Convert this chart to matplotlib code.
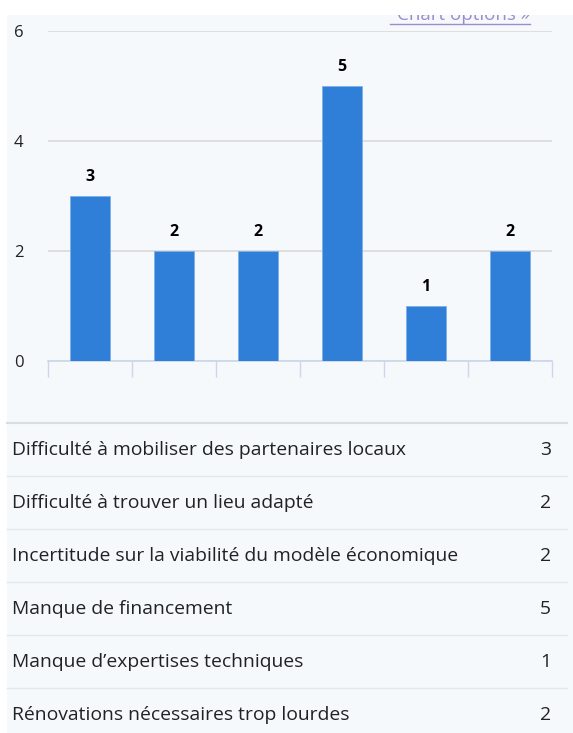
import matplotlib
matplotlib.use("Agg")
import matplotlib.pyplot as plt
from matplotlib.lines import Line2D
from matplotlib.patches import Rectangle

plt.rcParams['font.family'] = ['Open Sans', 'DejaVu Sans']

# %% data
categories = [
    "Difficulté à mobiliser des partenaires locaux",
    "Difficulté à trouver un lieu adapté",
    "Incertitude sur la viabilité du modèle économique",
    "Manque de financement",
    "Manque d\u2019expertises techniques",
    "Rénovations nécessaires trop lourdes",
]
counts = [3, 2, 2, 5, 1, 2]
yticks = [0, 2, 4, 6]

W, H = 573, 733
bar_color = "#2f7ed8"
grid_color = "#dcdcdc"
axis_color = "#ccd6eb"
bg_color = "#f5f9fc"

fig = plt.figure(figsize=(W / 100, H / 100), dpi=100)

# panel background (white strip at top and left)
fig.patches.append(Rectangle((7 / W, 0), 1, (H - 15) / H, transform=fig.transFigure,
                             facecolor=bg_color, edgecolor="none", zorder=-5))

# %% bar chart
ax = fig.add_axes([48 / W, (H - 361) / H, 504 / W, 330 / H])
ax.set_zorder(2)
ax.set_facecolor("none")
x = list(range(len(counts)))
ax.bar(x, counts, width=0.48, color=bar_color, edgecolor="#7fb0ea", linewidth=0.6, zorder=3)
for xi, c in zip(x, counts):
    ax.annotate(str(c), (xi, c), xytext=(0, 11), textcoords="offset pixels",
                ha="center", va="bottom", fontsize=11.5, fontweight="bold", color="#000000")

ax.set_xlim(-0.5, len(counts) - 0.5)
ax.set_ylim(0, 6)
ax.set_yticks(yticks)
ax.set_yticklabels([str(v) for v in yticks], fontsize=12, color="#222222")
ax.yaxis.grid(True, color=grid_color, linewidth=1.3, zorder=0)
for lab in ax.get_yticklabels():
    lab.set_horizontalalignment("left")
ax.tick_params(axis="y", length=0, pad=24.5)
ax.set_xticks([i - 0.5 for i in range(len(counts) + 1)])
ax.set_xticklabels([])
ax.tick_params(axis="x", length=11.5, width=1, color=axis_color, direction="out")
for s in ["top", "right", "left"]:
    ax.spines[s].set_visible(False)
ax.spines["bottom"].set_color(axis_color)
ax.spines["bottom"].set_linewidth(1.2)

# link text at top, partly hidden
fig.text(530 / W, (H - 24) / H, "Chart options \u00bb", ha="right", va="bottom",
         fontsize=13.5, color="#9d8cc9", zorder=3)
fig.add_artist(Line2D([390 / W, 530 / W], [(H - 24) / H] * 2, color="#9d8cc9", lw=1, zorder=3))
fig.patches.append(Rectangle((0, (H - 15) / H), 1, 15 / H, transform=fig.transFigure,
                             facecolor="white", edgecolor="none", zorder=10))

# %% table below
row_top = 423
row_h = 53
fig.add_artist(Line2D([7 / W, 567 / W], [(H - row_top) / H] * 2, color="#d8dde3", lw=1.5))
for i, (name, c) in enumerate(zip(categories, counts)):
    yc = row_top + row_h * i + 27
    fig.text(12 / W, (H - yc) / H, name, ha="left", va="center", fontsize=13.9, color="#222222")
    fig.text(551 / W, (H - yc) / H, str(c), ha="right", va="center", fontsize=13.9, color="#222222")
    if i < len(categories) - 1:
        yl = row_top + row_h * (i + 1)
        fig.add_artist(Line2D([7 / W, 567 / W], [(H - yl) / H] * 2, color="#e3e8ee", lw=1))

fig.savefig("out.png", dpi=100)
